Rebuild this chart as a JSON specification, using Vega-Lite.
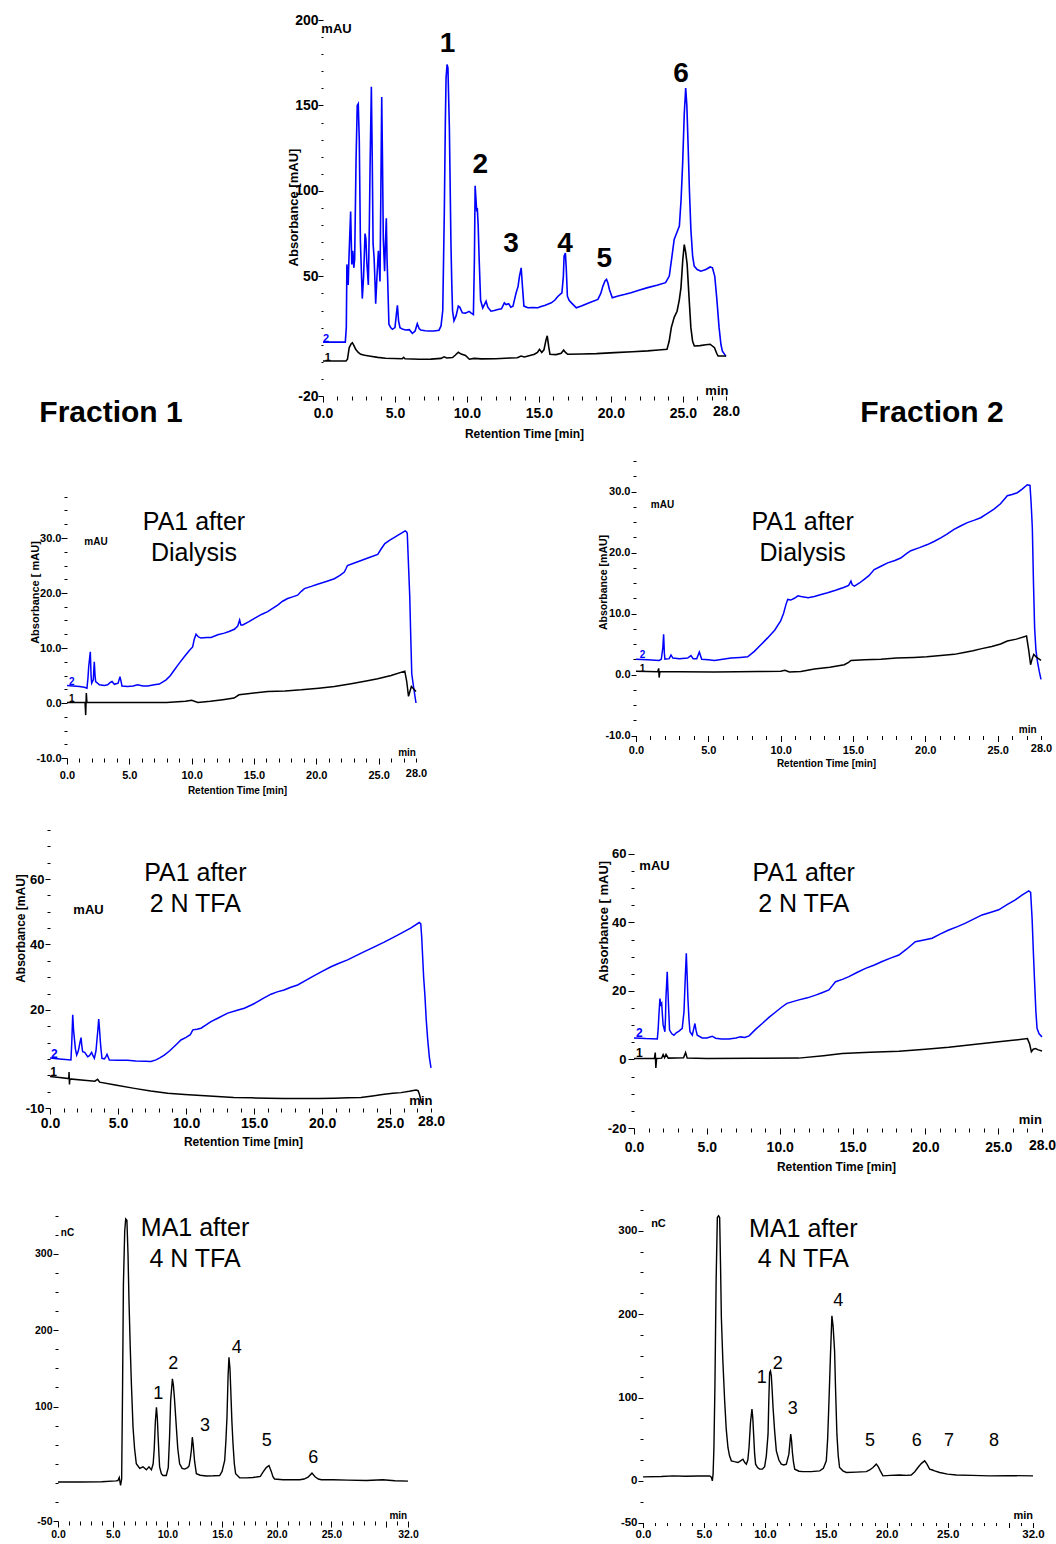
{
"$schema": "https://vega.github.io/schema/vega-lite/v6.json",
"padding": 0,
"background": "white",
"config": {
  "view": {"stroke": null},
  "axis": {"domain": false, "grid": false, "labelFont": "Liberation Sans", "labelFontWeight": "bold", "labelColor": "#000000", "titleFont": "Liberation Sans", "titleFontWeight": "bold", "titleColor": "#000000", "tickColor": "#000000", "tickWidth": 1, "labelFlush": false, "labelOverlap": false, "tickCount": 100},
  "text": {"font": "Liberation Sans", "color": "#000000"},
  "concat": {"spacing": 0}
},
"vconcat": [
{
 "hconcat": [
  {"width": 1, "height": 1, "data": {"values": [{}]}, "mark": {"type": "rule", "opacity": 0, "strokeWidth": 0}, "encoding": {"x": {"datum": 0, "type": "quantitative", "scale": {"domain": [0, 1]}, "axis": null}, "y": {"datum": 0, "type": "quantitative", "scale": {"domain": [0, 1]}, "axis": null}}},
  {
  "width": 403, "height": 376,
  "layer": [
    {
      "data": {"values": [
        {"s":"2","t":0,"v":11.5},{"s":"2","t":1.55,"v":11.5},{"s":"2","t":1.62,"v":20},{"s":"2","t":1.66,"v":57},{"s":"2","t":1.75,"v":45},{"s":"2","t":1.8,"v":60},{"s":"2","t":1.92,"v":88},{"s":"2","t":2.0,"v":57},{"s":"2","t":2.07,"v":65},{"s":"2","t":2.14,"v":55},{"s":"2","t":2.2,"v":60},{"s":"2","t":2.3,"v":120},{"s":"2","t":2.38,"v":150},{"s":"2","t":2.45,"v":151},{"s":"2","t":2.52,"v":130},{"s":"2","t":2.6,"v":70},{"s":"2","t":2.73,"v":37},{"s":"2","t":2.82,"v":50},{"s":"2","t":2.92,"v":75},{"s":"2","t":2.98,"v":72},{"s":"2","t":3.04,"v":59},{"s":"2","t":3.15,"v":45},{"s":"2","t":3.22,"v":80},{"s":"2","t":3.27,"v":114},{"s":"2","t":3.36,"v":161},{"s":"2","t":3.42,"v":120},{"s":"2","t":3.48,"v":69},{"s":"2","t":3.55,"v":61},{"s":"2","t":3.62,"v":45},{"s":"2","t":3.66,"v":34},{"s":"2","t":3.75,"v":50},{"s":"2","t":3.85,"v":65},{"s":"2","t":3.96,"v":47},{"s":"2","t":4.02,"v":100},{"s":"2","t":4.08,"v":155},{"s":"2","t":4.13,"v":120},{"s":"2","t":4.19,"v":72},{"s":"2","t":4.28,"v":53},{"s":"2","t":4.34,"v":70},{"s":"2","t":4.4,"v":84},{"s":"2","t":4.45,"v":60},{"s":"2","t":4.49,"v":49},{"s":"2","t":4.58,"v":22},{"s":"2","t":4.7,"v":20},{"s":"2","t":4.82,"v":19},{"s":"2","t":5.0,"v":20},{"s":"2","t":5.1,"v":28},{"s":"2","t":5.17,"v":33},{"s":"2","t":5.25,"v":24},{"s":"2","t":5.35,"v":20},{"s":"2","t":5.55,"v":19},{"s":"2","t":5.75,"v":18.6},{"s":"2","t":6.0,"v":18.8},{"s":"2","t":6.21,"v":16.7},{"s":"2","t":6.4,"v":18},{"s":"2","t":6.55,"v":22.3},{"s":"2","t":6.68,"v":19.5},{"s":"2","t":6.79,"v":18.6},{"s":"2","t":7.1,"v":18.2},{"s":"2","t":7.37,"v":18},{"s":"2","t":7.7,"v":18},{"s":"2","t":8.06,"v":18.5},{"s":"2","t":8.2,"v":21},{"s":"2","t":8.32,"v":30},{"s":"2","t":8.43,"v":88},{"s":"2","t":8.5,"v":140},{"s":"2","t":8.55,"v":166},{"s":"2","t":8.62,"v":174},{"s":"2","t":8.68,"v":172},{"s":"2","t":8.78,"v":137},{"s":"2","t":8.84,"v":100},{"s":"2","t":8.89,"v":69},{"s":"2","t":8.95,"v":45},{"s":"2","t":9.0,"v":30},{"s":"2","t":9.1,"v":24},{"s":"2","t":9.25,"v":27},{"s":"2","t":9.4,"v":32.6},{"s":"2","t":9.5,"v":32},{"s":"2","t":9.68,"v":28.7},{"s":"2","t":9.9,"v":28.5},{"s":"2","t":10.15,"v":29.5},{"s":"2","t":10.3,"v":28.5},{"s":"2","t":10.45,"v":27.7},{"s":"2","t":10.52,"v":60},{"s":"2","t":10.57,"v":103},{"s":"2","t":10.63,"v":95},{"s":"2","t":10.68,"v":88},{"s":"2","t":10.72,"v":90},{"s":"2","t":10.78,"v":80},{"s":"2","t":10.85,"v":60},{"s":"2","t":10.95,"v":36},{"s":"2","t":11.1,"v":31.5},{"s":"2","t":11.25,"v":34},{"s":"2","t":11.33,"v":35.4},{"s":"2","t":11.45,"v":32},{"s":"2","t":11.67,"v":29.6},{"s":"2","t":11.9,"v":30},{"s":"2","t":12.14,"v":30.6},{"s":"2","t":12.4,"v":31},{"s":"2","t":12.6,"v":34.5},{"s":"2","t":12.72,"v":33.5},{"s":"2","t":12.9,"v":34},{"s":"2","t":13.05,"v":32},{"s":"2","t":13.2,"v":32.6},{"s":"2","t":13.35,"v":38},{"s":"2","t":13.42,"v":40.4},{"s":"2","t":13.55,"v":44},{"s":"2","t":13.65,"v":50},{"s":"2","t":13.77,"v":55},{"s":"2","t":13.85,"v":45},{"s":"2","t":13.96,"v":32.6},{"s":"2","t":14.23,"v":31.6},{"s":"2","t":14.6,"v":31.8},{"s":"2","t":14.93,"v":31.6},{"s":"2","t":15.2,"v":32.5},{"s":"2","t":15.4,"v":33},{"s":"2","t":15.86,"v":34.5},{"s":"2","t":16.1,"v":36},{"s":"2","t":16.33,"v":38.4},{"s":"2","t":16.6,"v":40.4},{"s":"2","t":16.7,"v":50},{"s":"2","t":16.75,"v":61.8},{"s":"2","t":16.84,"v":63.7},{"s":"2","t":16.9,"v":55},{"s":"2","t":16.98,"v":38.4},{"s":"2","t":17.1,"v":36},{"s":"2","t":17.26,"v":34.5},{"s":"2","t":17.6,"v":31.6},{"s":"2","t":17.95,"v":32.6},{"s":"2","t":18.5,"v":34.5},{"s":"2","t":19.1,"v":36.5},{"s":"2","t":19.3,"v":40},{"s":"2","t":19.45,"v":44.3},{"s":"2","t":19.6,"v":47.5},{"s":"2","t":19.7,"v":48.2},{"s":"2","t":19.8,"v":46},{"s":"2","t":19.9,"v":42.3},{"s":"2","t":20.1,"v":37.5},{"s":"2","t":20.5,"v":38.5},{"s":"2","t":21.0,"v":39.5},{"s":"2","t":21.4,"v":40.4},{"s":"2","t":22.0,"v":42},{"s":"2","t":22.56,"v":43.4},{"s":"2","t":23.2,"v":44.8},{"s":"2","t":23.8,"v":46.3},{"s":"2","t":24.06,"v":50.2},{"s":"2","t":24.25,"v":62},{"s":"2","t":24.4,"v":71.6},{"s":"2","t":24.6,"v":76},{"s":"2","t":24.76,"v":79.4},{"s":"2","t":24.88,"v":95},{"s":"2","t":24.99,"v":116.4},{"s":"2","t":25.1,"v":145},{"s":"2","t":25.2,"v":160.2},{"s":"2","t":25.28,"v":150},{"s":"2","t":25.37,"v":126},{"s":"2","t":25.46,"v":100},{"s":"2","t":25.56,"v":77.5},{"s":"2","t":25.68,"v":62},{"s":"2","t":25.79,"v":56},{"s":"2","t":26.0,"v":54},{"s":"2","t":26.25,"v":53},{"s":"2","t":26.6,"v":54},{"s":"2","t":26.9,"v":55.5},{"s":"2","t":27.06,"v":55},{"s":"2","t":27.22,"v":50},{"s":"2","t":27.35,"v":38},{"s":"2","t":27.52,"v":20},{"s":"2","t":27.65,"v":10},{"s":"2","t":27.75,"v":6.2},{"s":"2","t":28.0,"v":3.2},
        {"s":"1","t":0,"v":0.5},{"s":"1","t":1.6,"v":0.5},{"s":"1","t":1.7,"v":1.5},{"s":"1","t":1.82,"v":8.3},{"s":"1","t":1.95,"v":10.5},{"s":"1","t":2.04,"v":11.2},{"s":"1","t":2.15,"v":9.5},{"s":"1","t":2.27,"v":7.3},{"s":"1","t":2.45,"v":5.5},{"s":"1","t":2.62,"v":4.4},{"s":"1","t":2.9,"v":3.8},{"s":"1","t":3.2,"v":3.4},{"s":"1","t":3.8,"v":2.6},{"s":"1","t":4.35,"v":2.1},{"s":"1","t":5.5,"v":1.8},{"s":"1","t":5.6,"v":2.6},{"s":"1","t":5.7,"v":1.8},{"s":"1","t":6.67,"v":1.5},{"s":"1","t":7.5,"v":1.6},{"s":"1","t":8.2,"v":2.0},{"s":"1","t":8.41,"v":2.9},{"s":"1","t":8.6,"v":2.2},{"s":"1","t":9.0,"v":2.5},{"s":"1","t":9.2,"v":4.0},{"s":"1","t":9.4,"v":5.6},{"s":"1","t":9.6,"v":4.5},{"s":"1","t":9.9,"v":3.7},{"s":"1","t":10.17,"v":1.5},{"s":"1","t":10.5,"v":2.0},{"s":"1","t":11.0,"v":1.7},{"s":"1","t":12.0,"v":1.8},{"s":"1","t":13.0,"v":2.2},{"s":"1","t":13.5,"v":2.4},{"s":"1","t":13.76,"v":3.4},{"s":"1","t":14.0,"v":2.8},{"s":"1","t":14.69,"v":4.4},{"s":"1","t":14.9,"v":5.5},{"s":"1","t":15.04,"v":7.3},{"s":"1","t":15.2,"v":5.5},{"s":"1","t":15.35,"v":7},{"s":"1","t":15.5,"v":13},{"s":"1","t":15.58,"v":15.2},{"s":"1","t":15.68,"v":9},{"s":"1","t":15.77,"v":4.4},{"s":"1","t":16.2,"v":4.2},{"s":"1","t":16.55,"v":5},{"s":"1","t":16.72,"v":6.9},{"s":"1","t":16.85,"v":5.5},{"s":"1","t":17.0,"v":4.4},{"s":"1","t":18.0,"v":4.6},{"s":"1","t":19.0,"v":4.8},{"s":"1","t":20.25,"v":5.4},{"s":"1","t":21.5,"v":5.9},{"s":"1","t":22.56,"v":6.4},{"s":"1","t":23.3,"v":6.9},{"s":"1","t":23.9,"v":7.3},{"s":"1","t":24.05,"v":12},{"s":"1","t":24.2,"v":20},{"s":"1","t":24.4,"v":26},{"s":"1","t":24.6,"v":29.6},{"s":"1","t":24.75,"v":36},{"s":"1","t":24.87,"v":43.3},{"s":"1","t":25.0,"v":60},{"s":"1","t":25.1,"v":68.6},{"s":"1","t":25.2,"v":64},{"s":"1","t":25.3,"v":57},{"s":"1","t":25.43,"v":38},{"s":"1","t":25.56,"v":20},{"s":"1","t":25.68,"v":12},{"s":"1","t":25.8,"v":9.3},{"s":"1","t":26.2,"v":9.5},{"s":"1","t":26.6,"v":10},{"s":"1","t":26.9,"v":10.3},{"s":"1","t":27.2,"v":8.3},{"s":"1","t":27.35,"v":5},{"s":"1","t":27.45,"v":3.4},{"s":"1","t":28.0,"v":3.4}
      ]},
      "mark": {"type": "line", "strokeWidth": 1.6},
      "encoding": {
        "x": {"field": "t", "type": "quantitative", "scale": {"domain": [0, 28], "nice": false, "zero": false},
          "axis": {"title": "Retention Time [min]", "values": [0,1,2,3,4,5,6,7,8,9,10,11,12,13,14,15,16,17,18,19,20,21,22,23,24,25,26,27,28], "tickCount": 100,
            "labelExpr": "datum.value % 5 === 0 || datum.value === 28 ? format(datum.value, '.1f') : ''",
            "tickSize": {"condition": {"test": "datum.value % 5 === 0", "value": 6}, "value": 4},
            "labelPadding": 4, "labelFontSize": 14, "titleFontSize": 12, "titleX": 201, "titleY": 37, "titleBaseline": "middle"}},
        "y": {"field": "v", "type": "quantitative", "scale": {"domain": [-20, 200], "nice": false, "zero": false},
          "axis": {"title": "Absorbance [mAU]", "values": [-20,-10,0,10,20,30,40,50,60,70,80,90,100,110,120,130,140,150,160,170,180,190,200], "tickCount": 100,
            "labelExpr": "indexof([-20,50,100,150,200], datum.value) >= 0 ? (datum.value < 0 ? '-' : '') + format(abs(datum.value), 'd') : ''",
            "tickSize": {"condition": {"test": "indexof([-20,50,100,150,200], datum.value) >= 0", "value": 5}, "value": 2},
            "labelPadding": 0, "labelFontSize": 14, "titleFontSize": 13, "titleX": -30, "titleY": 187, "titleBaseline": "middle"}},
        "color": {"field": "s", "type": "nominal", "scale": {"domain": ["1", "2"], "range": ["#000000", "#0000ff"]}, "legend": null}
      }
    },
    {
      "data": {"values": [{"s":"2","t":0.21,"v":13.35,"txt":"2"},{"s":"1","t":0.33,"v":2.4,"txt":"1"}]},
      "mark": {"type": "text", "fontSize": 11, "fontWeight": "bold"},
      "encoding": {"x": {"field": "t", "type": "quantitative"}, "y": {"field": "v", "type": "quantitative"}, "text": {"field": "txt"}, "color": {"field": "s", "type": "nominal", "legend": null}}
    },
    {
      "data": {"values": [{"t":0.94,"v":194.7,"txt":"mAU"},{"t":27.37,"v":-17.1,"txt":"min"}]},
      "mark": {"type": "text", "fontSize": 13, "fontWeight": "bold"},
      "encoding": {"x": {"field": "t", "type": "quantitative"}, "y": {"field": "v", "type": "quantitative"}, "text": {"field": "txt"}}
    },
    {
      "data": {"values": [{"t":8.66,"v":185.8,"txt":"1"},{"t":10.93,"v":115.2,"txt":"2"},{"t":13.06,"v":68.8,"txt":"3"},{"t":16.81,"v":69.2,"txt":"4"},{"t":19.54,"v":60.0,"txt":"5"},{"t":24.87,"v":168.2,"txt":"6"}]},
      "mark": {"type": "text", "fontSize": 28, "fontWeight": "bold"},
      "encoding": {"x": {"field": "t", "type": "quantitative"}, "y": {"field": "v", "type": "quantitative"}, "text": {"field": "txt"}}
    },
    {
      "data": {"values": [{"t":-14.73,"v":-29.95,"txt":"Fraction 1"},{"t":42.31,"v":-29.95,"txt":"Fraction 2"}]},
      "mark": {"type": "text", "fontSize": 30, "fontWeight": "bold"},
      "encoding": {"x": {"field": "t", "type": "quantitative"}, "y": {"field": "v", "type": "quantitative"}, "text": {"field": "txt"}}
    },
    {
      "data": {"values": [{}]},
      "mark": {"type": "rule", "opacity": 0, "strokeWidth": 0},
      "encoding": {"x": {"datum": -22.303, "type": "quantitative"}, "y": {"datum": 211.12, "type": "quantitative"}, "y2": {"datum": -53.35}}
    }
  ]
  }
 ]
},
{
  "hconcat": [
    {"width": 1, "height": 1, "data": {"values": [{}]}, "mark": {"type": "rule", "opacity": 0, "strokeWidth": 0}, "encoding": {"x": {"datum": 0, "type": "quantitative", "scale": {"domain": [0, 1]}, "axis": null}, "y": {"datum": 0, "type": "quantitative", "scale": {"domain": [0, 1]}, "axis": null}}},
    {
      "width": 349, "height": 297,
      "layer": [
        {
          "data": {"values": [
            {"s":"2","t":0.0,"v":3.2},{"s":"2","t":0.5,"v":3.1},{"s":"2","t":1.0,"v":3.0},{"s":"2","t":1.39,"v":2.85},{"s":"2","t":1.6,"v":2.7},{"s":"2","t":1.68,"v":4.5},{"s":"2","t":1.74,"v":6.6},{"s":"2","t":1.87,"v":9.3},{"s":"2","t":1.93,"v":5.0},{"s":"2","t":1.98,"v":3.6},{"s":"2","t":2.11,"v":4.2},{"s":"2","t":2.15,"v":6.0},{"s":"2","t":2.19,"v":7.5},{"s":"2","t":2.25,"v":5.0},{"s":"2","t":2.3,"v":3.9},{"s":"2","t":2.6,"v":3.3},{"s":"2","t":3.0,"v":3.2},{"s":"2","t":3.26,"v":3.3},{"s":"2","t":3.45,"v":3.7},{"s":"2","t":3.61,"v":3.9},{"s":"2","t":3.8,"v":3.4},{"s":"2","t":4.1,"v":3.6},{"s":"2","t":4.25,"v":4.8},{"s":"2","t":4.35,"v":3.8},{"s":"2","t":4.41,"v":3.1},{"s":"2","t":4.86,"v":3.0},{"s":"2","t":5.3,"v":3.1},{"s":"2","t":5.67,"v":3.3},{"s":"2","t":6.1,"v":3.1},{"s":"2","t":6.47,"v":3.1},{"s":"2","t":7.0,"v":3.3},{"s":"2","t":7.41,"v":3.45},{"s":"2","t":7.95,"v":4.2},{"s":"2","t":8.3,"v":5.0},{"s":"2","t":8.61,"v":6.0},{"s":"2","t":9.0,"v":7.2},{"s":"2","t":9.41,"v":8.4},{"s":"2","t":9.8,"v":9.5},{"s":"2","t":10.08,"v":10.2},{"s":"2","t":10.2,"v":11.5},{"s":"2","t":10.35,"v":12.5},{"s":"2","t":10.55,"v":12.0},{"s":"2","t":10.75,"v":11.8},{"s":"2","t":11.2,"v":11.9},{"s":"2","t":11.56,"v":11.9},{"s":"2","t":12.1,"v":12.4},{"s":"2","t":12.62,"v":12.7},{"s":"2","t":13.0,"v":13.0},{"s":"2","t":13.43,"v":13.4},{"s":"2","t":13.7,"v":14.0},{"s":"2","t":13.85,"v":15.1},{"s":"2","t":13.95,"v":14.2},{"s":"2","t":14.1,"v":14.2},{"s":"2","t":14.6,"v":14.8},{"s":"2","t":15.04,"v":15.4},{"s":"2","t":15.6,"v":16.1},{"s":"2","t":16.1,"v":16.6},{"s":"2","t":16.5,"v":17.2},{"s":"2","t":16.9,"v":17.8},{"s":"2","t":17.3,"v":18.5},{"s":"2","t":17.7,"v":19.0},{"s":"2","t":18.1,"v":19.3},{"s":"2","t":18.5,"v":19.6},{"s":"2","t":18.8,"v":20.3},{"s":"2","t":19.05,"v":20.8},{"s":"2","t":19.6,"v":21.2},{"s":"2","t":20.1,"v":21.6},{"s":"2","t":20.8,"v":22.1},{"s":"2","t":21.45,"v":22.6},{"s":"2","t":21.9,"v":23.2},{"s":"2","t":22.25,"v":23.8},{"s":"2","t":22.4,"v":24.5},{"s":"2","t":22.5,"v":25.0},{"s":"2","t":23.0,"v":25.4},{"s":"2","t":23.6,"v":25.9},{"s":"2","t":24.3,"v":26.5},{"s":"2","t":24.93,"v":27.0},{"s":"2","t":25.2,"v":28.0},{"s":"2","t":25.5,"v":29.0},{"s":"2","t":25.9,"v":29.6},{"s":"2","t":26.27,"v":30.1},{"s":"2","t":26.7,"v":30.7},{"s":"2","t":27.13,"v":31.3},{"s":"2","t":27.25,"v":31.1},{"s":"2","t":27.3,"v":30.8},{"s":"2","t":27.4,"v":25},{"s":"2","t":27.5,"v":19.3},{"s":"2","t":27.58,"v":12},{"s":"2","t":27.66,"v":5.3},{"s":"2","t":27.8,"v":3},{"s":"2","t":28.0,"v":0.0},
            {"s":"1","t":0.0,"v":0.1},{"s":"1","t":1.45,"v":0.1},{"s":"1","t":1.5,"v":-2.2},{"s":"1","t":1.55,"v":1.8},{"s":"1","t":1.6,"v":0.1},{"s":"1","t":3.0,"v":0.1},{"s":"1","t":5.0,"v":0.1},{"s":"1","t":8.0,"v":0.1},{"s":"1","t":9.5,"v":0.3},{"s":"1","t":10.0,"v":0.5},{"s":"1","t":10.5,"v":0.1},{"s":"1","t":11.5,"v":0.3},{"s":"1","t":12.5,"v":0.6},{"s":"1","t":13.4,"v":0.9},{"s":"1","t":13.8,"v":1.5},{"s":"1","t":14.5,"v":1.7},{"s":"1","t":16.1,"v":2.1},{"s":"1","t":17.5,"v":2.2},{"s":"1","t":18.8,"v":2.4},{"s":"1","t":20.2,"v":2.7},{"s":"1","t":21.45,"v":3.0},{"s":"1","t":22.8,"v":3.5},{"s":"1","t":24.0,"v":4.0},{"s":"1","t":24.93,"v":4.4},{"s":"1","t":26.0,"v":5.0},{"s":"1","t":27.1,"v":5.8},{"s":"1","t":27.25,"v":4.0},{"s":"1","t":27.4,"v":1.2},{"s":"1","t":27.5,"v":2.0},{"s":"1","t":27.63,"v":3.0},{"s":"1","t":27.8,"v":2.6},{"s":"1","t":28.0,"v":2.1}
          ]},
          "mark": {"type": "line", "strokeWidth": 1.5},
          "encoding": {
            "x": {"field": "t", "type": "quantitative", "scale": {"domain": [0, 28], "nice": false, "zero": false},
              "axis": {"title": "Retention Time [min]", "values": [0,1,2,3,4,5,6,7,8,9,10,11,12,13,14,15,16,17,18,19,20,21,22,23,24,25,26,27,28], "tickCount": 100,
                "labelExpr": "datum.value % 5 === 0 || datum.value === 28 ? format(datum.value, '.1f') : ''",
                "tickSize": {"condition": {"test": "datum.value % 5 === 0", "value": 6}, "value": 4},
                "labelPadding": 5, "labelFontSize": 11, "titleFontSize": 10, "titleX": 170, "titleY": 32, "titleBaseline": "middle"}},
            "y": {"field": "v", "type": "quantitative", "scale": {"domain": [-10, 44], "nice": false, "zero": false},
              "axis": {"title": "Absorbance [ mAU]", "values": [-10,-7.5,-5,-2.5,0,2.5,5,7.5,10,12.5,15,17.5,20,22.5,25,27.5,30,32.5,35,37.5], "tickCount": 100,
                "labelExpr": "datum.value % 10 === 0 ? (datum.value < 0 ? '-' : '') + format(abs(datum.value), '.1f') : ''",
                "tickSize": {"condition": {"test": "datum.value % 10 === 0", "value": 6}, "value": 3},
                "labelPadding": 0, "labelFontSize": 11, "titleFontSize": 11, "titleX": -32, "titleY": 131, "titleBaseline": "middle"}},
            "color": {"field": "s", "type": "nominal", "scale": {"domain": ["1", "2"], "range": ["#000000", "#0000ff"]}, "legend": null}
          }
        },
        {
          "data": {"values": [{"s":"2","t":0.38,"v":3.87,"txt":"2"},{"s":"1","t":0.38,"v":0.73,"txt":"1"}]},
          "mark": {"type": "text", "fontSize": 10, "fontWeight": "bold"},
          "encoding": {"x": {"field": "t", "type": "quantitative"}, "y": {"field": "v", "type": "quantitative"}, "text": {"field": "txt"}, "color": {"field": "s", "type": "nominal", "legend": null}}
        },
        {
          "data": {"values": [{"t":2.33,"v":29.27,"txt":"mAU"},{"t":27.28,"v":-9.09,"txt":"min"}]},
          "mark": {"type": "text", "fontSize": 10, "fontWeight": "bold"},
          "encoding": {"x": {"field": "t", "type": "quantitative"}, "y": {"field": "v", "type": "quantitative"}, "text": {"field": "txt"}}
        },
        {
          "data": {"values": [{"t":10.19,"v":32.9,"txt":"PA1 after"},{"t":10.19,"v":27.27,"txt":"Dialysis"}]},
          "mark": {"type": "text", "fontSize": 25},
          "encoding": {"x": {"field": "t", "type": "quantitative"}, "y": {"field": "v", "type": "quantitative"}, "text": {"field": "txt"}}
        },
        {
          "data": {"values": [{}]},
          "mark": {"type": "rule", "opacity": 0, "strokeWidth": 0},
          "encoding": {"x": {"datum": -5.215, "type": "quantitative"}, "x2": {"datum": 39.633}, "y": {"datum": 45.273, "type": "quantitative"}, "y2": {"datum": -21.09}}
        }
      ]
    },
    {
      "width": 405, "height": 274.5,
      "layer": [
        {
          "data": {"values": [
            {"s":"2","t":0.0,"v":2.5},{"s":"2","t":0.8,"v":2.4},{"s":"2","t":1.59,"v":2.3},{"s":"2","t":1.75,"v":2.5},{"s":"2","t":1.86,"v":4.5},{"s":"2","t":1.91,"v":6.6},{"s":"2","t":1.96,"v":3.5},{"s":"2","t":2.0,"v":2.5},{"s":"2","t":2.3,"v":2.6},{"s":"2","t":2.42,"v":3.2},{"s":"2","t":2.55,"v":2.7},{"s":"2","t":3.0,"v":2.6},{"s":"2","t":3.57,"v":2.7},{"s":"2","t":3.8,"v":3.1},{"s":"2","t":3.95,"v":2.6},{"s":"2","t":4.2,"v":2.6},{"s":"2","t":4.38,"v":3.7},{"s":"2","t":4.54,"v":2.5},{"s":"2","t":5.0,"v":2.4},{"s":"2","t":5.42,"v":2.3},{"s":"2","t":6.0,"v":2.5},{"s":"2","t":6.57,"v":2.7},{"s":"2","t":7.2,"v":2.8},{"s":"2","t":7.72,"v":2.9},{"s":"2","t":8.18,"v":3.8},{"s":"2","t":8.6,"v":4.8},{"s":"2","t":9.1,"v":6.0},{"s":"2","t":9.6,"v":7.3},{"s":"2","t":10.0,"v":8.8},{"s":"2","t":10.2,"v":10.0},{"s":"2","t":10.37,"v":11.5},{"s":"2","t":10.49,"v":12.3},{"s":"2","t":10.7,"v":12.2},{"s":"2","t":10.95,"v":12.5},{"s":"2","t":11.2,"v":12.9},{"s":"2","t":11.41,"v":12.8},{"s":"2","t":11.9,"v":12.6},{"s":"2","t":12.33,"v":12.8},{"s":"2","t":12.8,"v":13.1},{"s":"2","t":13.25,"v":13.4},{"s":"2","t":13.8,"v":13.8},{"s":"2","t":14.4,"v":14.3},{"s":"2","t":14.7,"v":14.6},{"s":"2","t":14.86,"v":15.3},{"s":"2","t":14.95,"v":14.7},{"s":"2","t":15.1,"v":14.5},{"s":"2","t":15.45,"v":15.0},{"s":"2","t":15.78,"v":15.6},{"s":"2","t":16.1,"v":16.2},{"s":"2","t":16.47,"v":17.2},{"s":"2","t":16.9,"v":17.7},{"s":"2","t":17.4,"v":18.3},{"s":"2","t":17.9,"v":18.7},{"s":"2","t":18.3,"v":19.1},{"s":"2","t":18.7,"v":19.8},{"s":"2","t":19.0,"v":20.3},{"s":"2","t":19.6,"v":20.8},{"s":"2","t":20.15,"v":21.3},{"s":"2","t":20.6,"v":21.8},{"s":"2","t":21.07,"v":22.4},{"s":"2","t":21.5,"v":23.0},{"s":"2","t":21.99,"v":23.8},{"s":"2","t":22.4,"v":24.3},{"s":"2","t":22.91,"v":24.9},{"s":"2","t":23.4,"v":25.3},{"s":"2","t":23.83,"v":25.7},{"s":"2","t":24.3,"v":26.4},{"s":"2","t":24.75,"v":27.1},{"s":"2","t":25.2,"v":28.0},{"s":"2","t":25.67,"v":29.3},{"s":"2","t":26.0,"v":29.5},{"s":"2","t":26.36,"v":29.8},{"s":"2","t":26.7,"v":30.4},{"s":"2","t":27.05,"v":31.1},{"s":"2","t":27.24,"v":31.0},{"s":"2","t":27.32,"v":28},{"s":"2","t":27.4,"v":24.1},{"s":"2","t":27.48,"v":15},{"s":"2","t":27.56,"v":7.6},{"s":"2","t":27.65,"v":4},{"s":"2","t":27.75,"v":2.2},{"s":"2","t":27.88,"v":0.5},{"s":"2","t":28.0,"v":-0.8},
            {"s":"1","t":0.0,"v":0.55},{"s":"1","t":1.5,"v":0.45},{"s":"1","t":1.57,"v":1.0},{"s":"1","t":1.6,"v":-0.5},{"s":"1","t":1.65,"v":0.45},{"s":"1","t":3.0,"v":0.45},{"s":"1","t":5.4,"v":0.4},{"s":"1","t":7.0,"v":0.45},{"s":"1","t":8.5,"v":0.5},{"s":"1","t":10.0,"v":0.55},{"s":"1","t":10.3,"v":0.7},{"s":"1","t":10.6,"v":0.4},{"s":"1","t":11.4,"v":0.5},{"s":"1","t":12.33,"v":0.9},{"s":"1","t":13.4,"v":1.2},{"s":"1","t":14.4,"v":1.6},{"s":"1","t":14.7,"v":2.0},{"s":"1","t":14.86,"v":2.3},{"s":"1","t":15.8,"v":2.4},{"s":"1","t":16.93,"v":2.5},{"s":"1","t":18.0,"v":2.7},{"s":"1","t":19.23,"v":2.8},{"s":"1","t":20.1,"v":2.9},{"s":"1","t":21.07,"v":3.1},{"s":"1","t":22.0,"v":3.3},{"s":"1","t":22.68,"v":3.6},{"s":"1","t":23.3,"v":3.9},{"s":"1","t":23.83,"v":4.2},{"s":"1","t":24.6,"v":4.6},{"s":"1","t":25.21,"v":5.0},{"s":"1","t":25.67,"v":5.5},{"s":"1","t":26.3,"v":5.8},{"s":"1","t":27.0,"v":6.3},{"s":"1","t":27.15,"v":4.0},{"s":"1","t":27.28,"v":1.6},{"s":"1","t":27.38,"v":2.5},{"s":"1","t":27.5,"v":3.3},{"s":"1","t":27.7,"v":2.8},{"s":"1","t":28.0,"v":2.3}
          ]},
          "mark": {"type": "line", "strokeWidth": 1.5},
          "encoding": {
            "x": {"field": "t", "type": "quantitative", "scale": {"domain": [0, 28], "nice": false, "zero": false},
              "axis": {"title": "Retention Time [min]", "values": [0,1,2,3,4,5,6,7,8,9,10,11,12,13,14,15,16,17,18,19,20,21,22,23,24,25,26,27,28], "tickCount": 100,
                "labelExpr": "datum.value % 5 === 0 || datum.value === 28 ? format(datum.value, '.1f') : ''",
                "tickSize": {"condition": {"test": "datum.value % 5 === 0", "value": 6}, "value": 4},
                "labelPadding": 3, "labelFontSize": 11, "titleFontSize": 10, "titleX": 190, "titleY": 28, "titleBaseline": "middle"}},
            "y": {"field": "v", "type": "quantitative", "scale": {"domain": [-10, 35], "nice": false, "zero": false},
              "axis": {"title": "Absorbance [mAU]", "values": [-10,-7.5,-5,-2.5,0,2.5,5,7.5,10,12.5,15,17.5,20,22.5,25,27.5,30,32.5,35], "tickCount": 100,
                "labelExpr": "datum.value % 10 === 0 ? (datum.value < 0 ? '-' : '') + format(abs(datum.value), '.1f') : ''",
                "tickSize": {"condition": {"test": "datum.value % 10 === 0", "value": 5}, "value": 3},
                "labelPadding": 1, "labelFontSize": 11, "titleFontSize": 10.5, "titleX": -33, "titleY": 121, "titleBaseline": "middle"}},
            "color": {"field": "s", "type": "nominal", "scale": {"domain": ["1", "2"], "range": ["#000000", "#0000ff"]}, "legend": null}
          }
        },
        {
          "data": {"values": [{"s":"2","t":0.46,"v":3.2,"txt":"2"},{"s":"1","t":0.46,"v":0.85,"txt":"1"}]},
          "mark": {"type": "text", "fontSize": 10, "fontWeight": "bold"},
          "encoding": {"x": {"field": "t", "type": "quantitative"}, "y": {"field": "v", "type": "quantitative"}, "text": {"field": "txt"}, "color": {"field": "s", "type": "nominal", "legend": null}}
        },
        {
          "data": {"values": [{"t":1.83,"v":27.79,"txt":"mAU"},{"t":27.08,"v":-9.1,"txt":"min"}]},
          "mark": {"type": "text", "fontSize": 10, "fontWeight": "bold"},
          "encoding": {"x": {"field": "t", "type": "quantitative"}, "y": {"field": "v", "type": "quantitative"}, "text": {"field": "txt"}}
        },
        {
          "data": {"values": [{"t":11.52,"v":25.05,"txt":"PA1 after"},{"t":11.52,"v":19.87,"txt":"Dialysis"}]},
          "mark": {"type": "text", "fontSize": 25},
          "encoding": {"x": {"field": "t", "type": "quantitative"}, "y": {"field": "v", "type": "quantitative"}, "text": {"field": "txt"}}
        },
        {
          "data": {"values": [{}]},
          "mark": {"type": "rule", "opacity": 0, "strokeWidth": 0},
          "encoding": {"x": {"datum": -5.185, "type": "quantitative"}, "y": {"datum": 36.148, "type": "quantitative"}, "y2": {"datum": -10}}
        }
      ]
    }
  ]
},
{
  "hconcat": [
    {"width": 1, "height": 1, "data": {"values": [{}]}, "mark": {"type": "rule", "opacity": 0, "strokeWidth": 0}, "encoding": {"x": {"datum": 0, "type": "quantitative", "scale": {"domain": [0, 1]}, "axis": null}, "y": {"datum": 0, "type": "quantitative", "scale": {"domain": [0, 1]}, "axis": null}}},
    {
      "width": 381, "height": 278,
      "layer": [
        {
          "data": {"values": [
            {"s":"2","t":0.0,"v":5.3},{"s":"2","t":0.7,"v":5.0},{"s":"2","t":1.54,"v":4.7},{"s":"2","t":1.6,"v":10},{"s":"2","t":1.67,"v":18.5},{"s":"2","t":1.73,"v":14},{"s":"2","t":1.79,"v":11.3},{"s":"2","t":1.87,"v":8},{"s":"2","t":1.96,"v":6.2},{"s":"2","t":2.04,"v":7.0},{"s":"2","t":2.1,"v":7.8},{"s":"2","t":2.2,"v":10},{"s":"2","t":2.28,"v":11.5},{"s":"2","t":2.34,"v":9},{"s":"2","t":2.4,"v":7.2},{"s":"2","t":2.55,"v":7.0},{"s":"2","t":2.77,"v":5.7},{"s":"2","t":2.9,"v":6.0},{"s":"2","t":3.06,"v":7.0},{"s":"2","t":3.16,"v":6.0},{"s":"2","t":3.26,"v":5.2},{"s":"2","t":3.38,"v":7.5},{"s":"2","t":3.45,"v":10.8},{"s":"2","t":3.52,"v":14},{"s":"2","t":3.58,"v":17.2},{"s":"2","t":3.64,"v":14},{"s":"2","t":3.7,"v":10.3},{"s":"2","t":3.76,"v":7.5},{"s":"2","t":3.82,"v":5.2},{"s":"2","t":4.0,"v":5.0},{"s":"2","t":4.12,"v":5.8},{"s":"2","t":4.19,"v":6.4},{"s":"2","t":4.28,"v":5.5},{"s":"2","t":4.36,"v":4.7},{"s":"2","t":5.0,"v":4.6},{"s":"2","t":5.7,"v":4.6},{"s":"2","t":6.3,"v":4.4},{"s":"2","t":7.0,"v":4.3},{"s":"2","t":7.42,"v":4.2},{"s":"2","t":7.79,"v":4.7},{"s":"2","t":8.1,"v":5.4},{"s":"2","t":8.4,"v":6.2},{"s":"2","t":8.8,"v":7.5},{"s":"2","t":9.13,"v":8.8},{"s":"2","t":9.4,"v":9.9},{"s":"2","t":9.62,"v":10.8},{"s":"2","t":10.0,"v":11.6},{"s":"2","t":10.31,"v":12.4},{"s":"2","t":10.42,"v":13.3},{"s":"2","t":10.5,"v":13.9},{"s":"2","t":10.8,"v":14.1},{"s":"2","t":11.1,"v":14.4},{"s":"2","t":11.5,"v":15.5},{"s":"2","t":11.83,"v":16.4},{"s":"2","t":12.4,"v":17.6},{"s":"2","t":13.06,"v":19.0},{"s":"2","t":13.7,"v":19.8},{"s":"2","t":14.28,"v":20.5},{"s":"2","t":14.8,"v":21.5},{"s":"2","t":15.26,"v":22.5},{"s":"2","t":15.7,"v":23.6},{"s":"2","t":16.24,"v":24.8},{"s":"2","t":16.7,"v":25.5},{"s":"2","t":17.2,"v":26.1},{"s":"2","t":17.7,"v":26.9},{"s":"2","t":18.2,"v":27.6},{"s":"2","t":18.8,"v":29.0},{"s":"2","t":19.42,"v":30.5},{"s":"2","t":20.0,"v":31.8},{"s":"2","t":20.65,"v":33.2},{"s":"2","t":21.2,"v":34.2},{"s":"2","t":21.87,"v":35.3},{"s":"2","t":22.5,"v":36.6},{"s":"2","t":23.1,"v":37.8},{"s":"2","t":23.8,"v":39.2},{"s":"2","t":24.56,"v":40.7},{"s":"2","t":25.2,"v":42.1},{"s":"2","t":25.79,"v":43.4},{"s":"2","t":26.5,"v":45.0},{"s":"2","t":27.14,"v":46.7},{"s":"2","t":27.25,"v":46.3},{"s":"2","t":27.32,"v":42},{"s":"2","t":27.38,"v":36.8},{"s":"2","t":27.46,"v":30},{"s":"2","t":27.55,"v":24.6},{"s":"2","t":27.65,"v":17},{"s":"2","t":27.75,"v":11.3},{"s":"2","t":27.88,"v":5.5},{"s":"2","t":28.0,"v":2.3},
            {"s":"1","t":0.0,"v":-0.4},{"s":"1","t":0.7,"v":-0.7},{"s":"1","t":1.38,"v":-1.0},{"s":"1","t":1.4,"v":1.0},{"s":"1","t":1.43,"v":-2.8},{"s":"1","t":1.46,"v":-1.1},{"s":"1","t":2.5,"v":-1.5},{"s":"1","t":3.3,"v":-1.8},{"s":"1","t":3.5,"v":-1.2},{"s":"1","t":3.65,"v":-2.1},{"s":"1","t":4.8,"v":-3.0},{"s":"1","t":6.2,"v":-4.0},{"s":"1","t":7.4,"v":-4.8},{"s":"1","t":8.65,"v":-5.5},{"s":"1","t":9.9,"v":-5.9},{"s":"1","t":11.1,"v":-6.2},{"s":"1","t":12.3,"v":-6.5},{"s":"1","t":13.5,"v":-6.8},{"s":"1","t":14.8,"v":-6.9},{"s":"1","t":16.0,"v":-7.0},{"s":"1","t":17.2,"v":-7.1},{"s":"1","t":18.5,"v":-7.1},{"s":"1","t":19.7,"v":-7.1},{"s":"1","t":20.9,"v":-7.0},{"s":"1","t":21.9,"v":-6.9},{"s":"1","t":22.85,"v":-6.8},{"s":"1","t":23.7,"v":-6.3},{"s":"1","t":24.56,"v":-5.8},{"s":"1","t":25.2,"v":-5.5},{"s":"1","t":25.8,"v":-5.3},{"s":"1","t":26.4,"v":-4.9},{"s":"1","t":26.9,"v":-4.5},{"s":"1","t":27.05,"v":-4.7},{"s":"1","t":27.15,"v":-5.8},{"s":"1","t":27.25,"v":-7.5},{"s":"1","t":27.3,"v":-8.5}
          ]},
          "mark": {"type": "line", "strokeWidth": 1.5},
          "encoding": {
            "x": {"field": "t", "type": "quantitative", "scale": {"domain": [0, 28], "nice": false, "zero": false},
              "axis": {"title": "Retention Time [min]", "values": [0,1,2,3,4,5,6,7,8,9,10,11,12,13,14,15,16,17,18,19,20,21,22,23,24,25,26,27,28], "tickCount": 100,
                "labelExpr": "datum.value % 5 === 0 || datum.value === 28 ? format(datum.value, '.1f') : ''",
                "tickSize": {"condition": {"test": "datum.value % 5 === 0", "value": 6}, "value": 4},
                "labelPadding": 2, "labelFontSize": 14, "titleFontSize": 12, "titleX": 193, "titleY": 33, "titleBaseline": "middle"}},
            "y": {"field": "v", "type": "quantitative", "scale": {"domain": [-10, 75], "nice": false, "zero": false},
              "axis": {"title": "Absorbance [mAU]", "values": [-10,-5,0,5,10,15,20,25,30,35,40,45,50,55,60,65,70,75], "tickCount": 100,
                "labelExpr": "indexof([-10,20,40,60], datum.value) >= 0 ? (datum.value < 0 ? '-' : '') + format(abs(datum.value), 'd') : ''",
                "tickSize": {"condition": {"test": "indexof([-10,20,40,60], datum.value) >= 0", "value": 5}, "value": 3},
                "labelPadding": 1, "labelFontSize": 13, "titleFontSize": 12, "titleX": -30, "titleY": 98, "titleBaseline": "middle"}},
            "color": {"field": "s", "type": "nominal", "scale": {"domain": ["1", "2"], "range": ["#000000", "#0000ff"]}, "legend": null}
          }
        },
        {
          "data": {"values": [{"s":"2","t":0.32,"v":6.42,"txt":"2"},{"s":"1","t":0.27,"v":1.1,"txt":"1"}]},
          "mark": {"type": "text", "fontSize": 12, "fontWeight": "bold"},
          "encoding": {"x": {"field": "t", "type": "quantitative"}, "y": {"field": "v", "type": "quantitative"}, "text": {"field": "txt"}, "color": {"field": "s", "type": "nominal", "legend": null}}
        },
        {
          "data": {"values": [{"t":2.83,"v":50.54,"txt":"mAU"},{"t":27.26,"v":-7.86,"txt":"min"}]},
          "mark": {"type": "text", "fontSize": 13, "fontWeight": "bold"},
          "encoding": {"x": {"field": "t", "type": "quantitative"}, "y": {"field": "v", "type": "quantitative"}, "text": {"field": "txt"}}
        },
        {
          "data": {"values": [{"t":10.68,"v":61.94,"txt":"PA1 after"},{"t":10.68,"v":52.47,"txt":"2 N TFA"}]},
          "mark": {"type": "text", "fontSize": 25},
          "encoding": {"x": {"field": "t", "type": "quantitative"}, "y": {"field": "v", "type": "quantitative"}, "text": {"field": "txt"}}
        },
        {
          "data": {"values": [{}]},
          "mark": {"type": "rule", "opacity": 0, "strokeWidth": 0},
          "encoding": {"x": {"datum": -3.528, "type": "quantitative"}, "x2": {"datum": 37.554}, "y": {"datum": 78.06, "type": "quantitative"}, "y2": {"datum": -36.6}}
        }
      ]
    },
    {
      "width": 408, "height": 298,
      "layer": [
        {
          "data": {"values": [
            {"s":"2","t":0.0,"v":6.3},{"s":"2","t":0.8,"v":6.1},{"s":"2","t":1.6,"v":6.0},{"s":"2","t":1.66,"v":9},{"s":"2","t":1.71,"v":13.0},{"s":"2","t":1.78,"v":17.8},{"s":"2","t":1.84,"v":16.0},{"s":"2","t":1.9,"v":16.4},{"s":"2","t":1.95,"v":13},{"s":"2","t":2.0,"v":10.1},{"s":"2","t":2.12,"v":8.1},{"s":"2","t":2.16,"v":12},{"s":"2","t":2.19,"v":17.8},{"s":"2","t":2.28,"v":25.6},{"s":"2","t":2.32,"v":21},{"s":"2","t":2.35,"v":17.8},{"s":"2","t":2.44,"v":8.6},{"s":"2","t":2.6,"v":7.5},{"s":"2","t":2.74,"v":7.1},{"s":"2","t":2.9,"v":7.8},{"s":"2","t":3.09,"v":8.3},{"s":"2","t":3.31,"v":9.1},{"s":"2","t":3.43,"v":13.9},{"s":"2","t":3.52,"v":24},{"s":"2","t":3.59,"v":31.0},{"s":"2","t":3.65,"v":24},{"s":"2","t":3.7,"v":17.8},{"s":"2","t":3.77,"v":12},{"s":"2","t":3.84,"v":8.1},{"s":"2","t":4.0,"v":7.1},{"s":"2","t":4.1,"v":9},{"s":"2","t":4.18,"v":10.5},{"s":"2","t":4.26,"v":8.5},{"s":"2","t":4.34,"v":7.1},{"s":"2","t":4.68,"v":6.3},{"s":"2","t":5.0,"v":6.3},{"s":"2","t":5.37,"v":6.8},{"s":"2","t":5.6,"v":6.2},{"s":"2","t":6.0,"v":6.0},{"s":"2","t":6.51,"v":6.0},{"s":"2","t":7.0,"v":6.3},{"s":"2","t":7.31,"v":6.6},{"s":"2","t":7.6,"v":6.4},{"s":"2","t":7.9,"v":6.9},{"s":"2","t":8.34,"v":8.8},{"s":"2","t":8.8,"v":10.5},{"s":"2","t":9.26,"v":12.3},{"s":"2","t":9.7,"v":13.8},{"s":"2","t":10.17,"v":15.4},{"s":"2","t":10.5,"v":16.4},{"s":"2","t":10.9,"v":16.9},{"s":"2","t":11.32,"v":17.4},{"s":"2","t":11.9,"v":18.0},{"s":"2","t":12.46,"v":18.8},{"s":"2","t":12.9,"v":19.5},{"s":"2","t":13.38,"v":20.3},{"s":"2","t":13.6,"v":21.5},{"s":"2","t":13.83,"v":22.7},{"s":"2","t":14.3,"v":23.4},{"s":"2","t":14.75,"v":24.2},{"s":"2","t":15.3,"v":25.4},{"s":"2","t":15.89,"v":26.6},{"s":"2","t":16.5,"v":27.6},{"s":"2","t":17.03,"v":28.6},{"s":"2","t":17.6,"v":29.6},{"s":"2","t":18.18,"v":30.5},{"s":"2","t":18.7,"v":32.2},{"s":"2","t":19.31,"v":34.4},{"s":"2","t":19.9,"v":34.9},{"s":"2","t":20.46,"v":35.4},{"s":"2","t":21.0,"v":36.6},{"s":"2","t":21.6,"v":37.8},{"s":"2","t":22.2,"v":38.8},{"s":"2","t":22.75,"v":39.8},{"s":"2","t":23.3,"v":41.0},{"s":"2","t":23.89,"v":42.2},{"s":"2","t":24.5,"v":43.0},{"s":"2","t":25.03,"v":43.7},{"s":"2","t":25.6,"v":45.2},{"s":"2","t":26.17,"v":46.6},{"s":"2","t":26.6,"v":47.9},{"s":"2","t":27.09,"v":49.2},{"s":"2","t":27.22,"v":48.8},{"s":"2","t":27.32,"v":41.2},{"s":"2","t":27.41,"v":31},{"s":"2","t":27.5,"v":21.8},{"s":"2","t":27.58,"v":14},{"s":"2","t":27.66,"v":9.1},{"s":"2","t":27.8,"v":7.5},{"s":"2","t":28.0,"v":6.6},
            {"s":"1","t":0.0,"v":0.3},{"s":"1","t":1.4,"v":0.3},{"s":"1","t":1.46,"v":2.0},{"s":"1","t":1.5,"v":-2.5},{"s":"1","t":1.55,"v":0.3},{"s":"1","t":1.9,"v":0.4},{"s":"1","t":2.0,"v":1.4},{"s":"1","t":2.1,"v":0.5},{"s":"1","t":2.2,"v":1.5},{"s":"1","t":2.35,"v":0.4},{"s":"1","t":3.4,"v":0.5},{"s":"1","t":3.54,"v":2.0},{"s":"1","t":3.65,"v":0.4},{"s":"1","t":5.0,"v":0.3},{"s":"1","t":8.0,"v":0.35},{"s":"1","t":11.3,"v":0.4},{"s":"1","t":13.0,"v":1.1},{"s":"1","t":14.29,"v":1.75},{"s":"1","t":16.2,"v":2.1},{"s":"1","t":18.18,"v":2.4},{"s":"1","t":20.0,"v":3.0},{"s":"1","t":21.6,"v":3.6},{"s":"1","t":23.3,"v":4.4},{"s":"1","t":25.03,"v":5.2},{"s":"1","t":26.0,"v":5.6},{"s":"1","t":27.0,"v":6.1},{"s":"1","t":27.15,"v":4.5},{"s":"1","t":27.27,"v":2.25},{"s":"1","t":27.4,"v":3.0},{"s":"1","t":27.55,"v":3.2},{"s":"1","t":27.75,"v":2.8},{"s":"1","t":28.0,"v":2.5}
          ]},
          "mark": {"type": "line", "strokeWidth": 1.5},
          "encoding": {
            "x": {"field": "t", "type": "quantitative", "scale": {"domain": [0, 28], "nice": false, "zero": false},
              "axis": {"title": "Retention Time [min]", "values": [0,1,2,3,4,5,6,7,8,9,10,11,12,13,14,15,16,17,18,19,20,21,22,23,24,25,26,27,28], "tickCount": 100,
                "labelExpr": "datum.value % 5 === 0 || datum.value === 28 ? format(datum.value, '.1f') : ''",
                "tickSize": {"condition": {"test": "datum.value % 5 === 0", "value": 6}, "value": 4},
                "labelPadding": 6, "labelFontSize": 14, "titleFontSize": 12, "titleX": 202, "titleY": 38.5, "titleBaseline": "middle"}},
            "y": {"field": "v", "type": "quantitative", "scale": {"domain": [-20, 67], "nice": false, "zero": false},
              "axis": {"title": "Absorbance [ mAU]", "values": [-20,-15,-10,-5,0,5,10,15,20,25,30,35,40,45,50,55,60], "tickCount": 100,
                "labelExpr": "datum.value % 20 === 0 ? (datum.value < 0 ? '-' : '') + format(abs(datum.value), 'd') : ''",
                "tickSize": {"condition": {"test": "datum.value % 20 === 0", "value": 6}, "value": 3},
                "labelPadding": 2, "labelFontSize": 13, "titleFontSize": 13, "titleX": -31, "titleY": 91, "titleBaseline": "middle"}},
            "color": {"field": "s", "type": "nominal", "scale": {"domain": ["1", "2"], "range": ["#000000", "#0000ff"]}, "legend": null}
          }
        },
        {
          "data": {"values": [{"s":"2","t":0.36,"v":7.82,"txt":"2"},{"s":"1","t":0.36,"v":1.98,"txt":"1"}]},
          "mark": {"type": "text", "fontSize": 12, "fontWeight": "bold"},
          "encoding": {"x": {"field": "t", "type": "quantitative"}, "y": {"field": "v", "type": "quantitative"}, "text": {"field": "txt"}, "color": {"field": "s", "type": "nominal", "legend": null}}
        },
        {
          "data": {"values": [{"t":1.41,"v":56.49,"txt":"mAU"},{"t":27.2,"v":-17.75,"txt":"min"}]},
          "mark": {"type": "text", "fontSize": 13, "fontWeight": "bold"},
          "encoding": {"x": {"field": "t", "type": "quantitative"}, "y": {"field": "v", "type": "quantitative"}, "text": {"field": "txt"}}
        },
        {
          "data": {"values": [{"t":11.65,"v":54.53,"txt":"PA1 after"},{"t":11.65,"v":45.31,"txt":"2 N TFA"}]},
          "mark": {"type": "text", "fontSize": 25},
          "encoding": {"x": {"field": "t", "type": "quantitative"}, "y": {"field": "v", "type": "quantitative"}, "text": {"field": "txt"}}
        },
        {
          "data": {"values": [{}]},
          "mark": {"type": "rule", "opacity": 0, "strokeWidth": 0},
          "encoding": {"x": {"datum": -4.941, "type": "quantitative"}, "y": {"datum": 69.92, "type": "quantitative"}, "y2": {"datum": -20}}
        }
      ]
    }
  ]
},
{
  "hconcat": [
    {"width": 1, "height": 1, "data": {"values": [{}]}, "mark": {"type": "rule", "opacity": 0, "strokeWidth": 0}, "encoding": {"x": {"datum": 0, "type": "quantitative", "scale": {"domain": [0, 1]}, "axis": null}, "y": {"datum": 0, "type": "quantitative", "scale": {"domain": [0, 1]}, "axis": null}}},
    {
      "width": 350, "height": 316,
      "layer": [
        {
          "data": {"values": [
            {"s":"1","t":0.0,"v":1.0},{"s":"1","t":2.0,"v":1.0},{"s":"1","t":4.0,"v":1.5},{"s":"1","t":5.3,"v":2.5},{"s":"1","t":5.48,"v":3.0},{"s":"1","t":5.6,"v":7.0},{"s":"1","t":5.72,"v":-3.5},{"s":"1","t":5.82,"v":5},{"s":"1","t":5.9,"v":120},{"s":"1","t":5.98,"v":260},{"s":"1","t":6.1,"v":330},{"s":"1","t":6.19,"v":345.8},{"s":"1","t":6.3,"v":344},{"s":"1","t":6.4,"v":300},{"s":"1","t":6.49,"v":238.8},{"s":"1","t":6.6,"v":180},{"s":"1","t":6.71,"v":129.7},{"s":"1","t":6.86,"v":72.9},{"s":"1","t":7.0,"v":45},{"s":"1","t":7.16,"v":25},{"s":"1","t":7.47,"v":19},{"s":"1","t":7.77,"v":21},{"s":"1","t":8.08,"v":17},{"s":"1","t":8.32,"v":21},{"s":"1","t":8.54,"v":17},{"s":"1","t":8.7,"v":25},{"s":"1","t":8.8,"v":45},{"s":"1","t":8.9,"v":80},{"s":"1","t":9.0,"v":99},{"s":"1","t":9.08,"v":85},{"s":"1","t":9.14,"v":65},{"s":"1","t":9.22,"v":40},{"s":"1","t":9.29,"v":21},{"s":"1","t":9.45,"v":12},{"s":"1","t":9.6,"v":9.6},{"s":"1","t":9.9,"v":9.6},{"s":"1","t":10.08,"v":20},{"s":"1","t":10.2,"v":60},{"s":"1","t":10.3,"v":107.9},{"s":"1","t":10.46,"v":136.3},{"s":"1","t":10.55,"v":128},{"s":"1","t":10.65,"v":110},{"s":"1","t":10.82,"v":72.9},{"s":"1","t":10.95,"v":45},{"s":"1","t":11.12,"v":25},{"s":"1","t":11.35,"v":19},{"s":"1","t":11.58,"v":18},{"s":"1","t":11.85,"v":20},{"s":"1","t":11.98,"v":22},{"s":"1","t":12.1,"v":32},{"s":"1","t":12.19,"v":42.4},{"s":"1","t":12.28,"v":59.8},{"s":"1","t":12.36,"v":50},{"s":"1","t":12.49,"v":28},{"s":"1","t":12.65,"v":12},{"s":"1","t":13.0,"v":10},{"s":"1","t":13.56,"v":9},{"s":"1","t":14.2,"v":9.2},{"s":"1","t":14.78,"v":9.6},{"s":"1","t":15.0,"v":15},{"s":"1","t":15.24,"v":29.3},{"s":"1","t":15.35,"v":55},{"s":"1","t":15.45,"v":86},{"s":"1","t":15.55,"v":140},{"s":"1","t":15.63,"v":164.6},{"s":"1","t":15.72,"v":150},{"s":"1","t":15.8,"v":120},{"s":"1","t":15.9,"v":80},{"s":"1","t":16.0,"v":51.1},{"s":"1","t":16.12,"v":25},{"s":"1","t":16.24,"v":12},{"s":"1","t":16.61,"v":6.7},{"s":"1","t":17.2,"v":6.5},{"s":"1","t":17.83,"v":7},{"s":"1","t":18.29,"v":8},{"s":"1","t":18.5,"v":8.5},{"s":"1","t":18.74,"v":14},{"s":"1","t":19.04,"v":20},{"s":"1","t":19.29,"v":22.7},{"s":"1","t":19.5,"v":15},{"s":"1","t":19.65,"v":8},{"s":"1","t":19.8,"v":5},{"s":"1","t":20.57,"v":4},{"s":"1","t":21.5,"v":4},{"s":"1","t":22.1,"v":4},{"s":"1","t":22.5,"v":5},{"s":"1","t":22.86,"v":7.4},{"s":"1","t":23.22,"v":12.7},{"s":"1","t":23.5,"v":8},{"s":"1","t":23.8,"v":5},{"s":"1","t":24.08,"v":4},{"s":"1","t":25.14,"v":4},{"s":"1","t":26.5,"v":3.5},{"s":"1","t":28.19,"v":3},{"s":"1","t":29.7,"v":4},{"s":"1","t":30.8,"v":2.8},{"s":"1","t":32.0,"v":2.2}
          ]},
          "mark": {"type": "line", "strokeWidth": 1.4},
          "encoding": {
            "x": {"field": "t", "type": "quantitative", "scale": {"domain": [0, 32], "nice": false, "zero": false},
              "axis": {"title": null, "values": [0,1,2,3,4,5,6,7,8,9,10,11,12,13,14,15,16,17,18,19,20,21,22,23,24,25,26,27,28,29,30,31,32], "tickCount": 100,
                "labelExpr": "(datum.value % 5 === 0 && datum.value <= 25) || datum.value === 32 ? format(datum.value, '.1f') : ''",
                "tickSize": {"condition": {"test": "datum.value % 5 === 0 || datum.value === 32", "value": 6}, "value": 4},
                "labelPadding": 2, "labelFontSize": 10.5}},
            "y": {"field": "v", "type": "quantitative", "scale": {"domain": [-50, 364], "nice": false, "zero": false},
              "axis": {"title": null, "values": [-50,-25,0,25,50,75,100,125,150,175,200,225,250,275,300,325,350], "tickCount": 100,
                "labelExpr": "indexof([-50,100,200,300], datum.value) >= 0 ? (datum.value < 0 ? '-' : '') + format(abs(datum.value), 'd') : ''",
                "tickSize": {"condition": {"test": "indexof([-50,100,200,300], datum.value) >= 0", "value": 5}, "value": 3},
                "labelPadding": 1, "labelFontSize": 10.5}},
            "color": {"field": "s", "type": "nominal", "scale": {"domain": ["1", "2"], "range": ["#000000", "#0000ff"]}, "legend": null}
          }
        },
        {
          "data": {"values": [{"t":0.87,"v":327.7,"txt":"nC"},{"t":31.11,"v":-43.4,"txt":"min"}]},
          "mark": {"type": "text", "fontSize": 10, "fontWeight": "bold"},
          "encoding": {"x": {"field": "t", "type": "quantitative"}, "y": {"field": "v", "type": "quantitative"}, "text": {"field": "txt"}}
        },
        {
          "data": {"values": [{"t":12.53,"v":334.3,"txt":"MA1 after"},{"t":12.53,"v":292.9,"txt":"4 N TFA"}]},
          "mark": {"type": "text", "fontSize": 25},
          "encoding": {"x": {"field": "t", "type": "quantitative"}, "y": {"field": "v", "type": "quantitative"}, "text": {"field": "txt"}}
        },
        {
          "data": {"values": [{"t":9.17,"v":116.0,"txt":"1"},{"t":10.54,"v":155.3,"txt":"2"},{"t":13.44,"v":74.5,"txt":"3"},{"t":16.34,"v":177.0,"txt":"4"},{"t":19.08,"v":54.8,"txt":"5"},{"t":23.34,"v":32.9,"txt":"6"}]},
          "mark": {"type": "text", "fontSize": 18},
          "encoding": {"x": {"field": "t", "type": "quantitative"}, "y": {"field": "v", "type": "quantitative"}, "text": {"field": "txt"}}
        },
        {
          "data": {"values": [{}]},
          "mark": {"type": "rule", "opacity": 0, "strokeWidth": 0},
          "encoding": {"x": {"datum": -5.211, "type": "quantitative"}, "x2": {"datum": 45.897}, "y": {"datum": 377.1, "type": "quantitative"}, "y2": {"datum": -50}}
        }
      ]
    },
    {
      "width": 390, "height": 317.5,
      "layer": [
        {
          "data": {"values": [
            {"s":"1","t":0.0,"v":4.8},{"s":"1","t":1.5,"v":5.2},{"s":"1","t":2.46,"v":6.0},{"s":"1","t":3.5,"v":5.5},{"s":"1","t":4.5,"v":5.8},{"s":"1","t":5.47,"v":6.0},{"s":"1","t":5.62,"v":4},{"s":"1","t":5.69,"v":0},{"s":"1","t":5.75,"v":8},{"s":"1","t":5.82,"v":40},{"s":"1","t":5.9,"v":112},{"s":"1","t":6.0,"v":240},{"s":"1","t":6.1,"v":316},{"s":"1","t":6.2,"v":318},{"s":"1","t":6.29,"v":316},{"s":"1","t":6.36,"v":260},{"s":"1","t":6.43,"v":196},{"s":"1","t":6.55,"v":145},{"s":"1","t":6.7,"v":96},{"s":"1","t":6.83,"v":62},{"s":"1","t":6.97,"v":40},{"s":"1","t":7.1,"v":30},{"s":"1","t":7.25,"v":24},{"s":"1","t":7.5,"v":23},{"s":"1","t":7.79,"v":22},{"s":"1","t":8.0,"v":24},{"s":"1","t":8.2,"v":26},{"s":"1","t":8.35,"v":22},{"s":"1","t":8.48,"v":20},{"s":"1","t":8.6,"v":25},{"s":"1","t":8.7,"v":40},{"s":"1","t":8.82,"v":70},{"s":"1","t":8.94,"v":86},{"s":"1","t":9.01,"v":75},{"s":"1","t":9.08,"v":55},{"s":"1","t":9.16,"v":32},{"s":"1","t":9.24,"v":20},{"s":"1","t":9.4,"v":16},{"s":"1","t":9.57,"v":14},{"s":"1","t":9.8,"v":14},{"s":"1","t":9.98,"v":17},{"s":"1","t":10.12,"v":30},{"s":"1","t":10.26,"v":56},{"s":"1","t":10.32,"v":95},{"s":"1","t":10.39,"v":130},{"s":"1","t":10.46,"v":132},{"s":"1","t":10.53,"v":126},{"s":"1","t":10.6,"v":108},{"s":"1","t":10.67,"v":88},{"s":"1","t":10.8,"v":60},{"s":"1","t":10.94,"v":36},{"s":"1","t":11.15,"v":25},{"s":"1","t":11.35,"v":20},{"s":"1","t":11.55,"v":19},{"s":"1","t":11.76,"v":20},{"s":"1","t":11.97,"v":32},{"s":"1","t":12.05,"v":45},{"s":"1","t":12.12,"v":56},{"s":"1","t":12.19,"v":48},{"s":"1","t":12.26,"v":34},{"s":"1","t":12.35,"v":22},{"s":"1","t":12.45,"v":14},{"s":"1","t":12.8,"v":11.5},{"s":"1","t":13.13,"v":11},{"s":"1","t":13.8,"v":11},{"s":"1","t":14.5,"v":12},{"s":"1","t":14.8,"v":15},{"s":"1","t":15.04,"v":24},{"s":"1","t":15.15,"v":50},{"s":"1","t":15.26,"v":96},{"s":"1","t":15.38,"v":150},{"s":"1","t":15.5,"v":198},{"s":"1","t":15.6,"v":185},{"s":"1","t":15.72,"v":156},{"s":"1","t":15.8,"v":110},{"s":"1","t":15.91,"v":56},{"s":"1","t":16.02,"v":30},{"s":"1","t":16.13,"v":16},{"s":"1","t":16.4,"v":12},{"s":"1","t":16.68,"v":10},{"s":"1","t":17.5,"v":10.5},{"s":"1","t":18.32,"v":11},{"s":"1","t":18.6,"v":13},{"s":"1","t":18.87,"v":16},{"s":"1","t":19.14,"v":20},{"s":"1","t":19.3,"v":17},{"s":"1","t":19.47,"v":12},{"s":"1","t":19.69,"v":6},{"s":"1","t":20.3,"v":6.5},{"s":"1","t":21.06,"v":7},{"s":"1","t":21.6,"v":6.5},{"s":"1","t":22.01,"v":7},{"s":"1","t":22.3,"v":11},{"s":"1","t":22.56,"v":16},{"s":"1","t":22.85,"v":21},{"s":"1","t":23.11,"v":24},{"s":"1","t":23.3,"v":20},{"s":"1","t":23.52,"v":14},{"s":"1","t":23.75,"v":13},{"s":"1","t":23.93,"v":12},{"s":"1","t":24.34,"v":10},{"s":"1","t":25.0,"v":8},{"s":"1","t":25.71,"v":7},{"s":"1","t":27.0,"v":6.5},{"s":"1","t":28.44,"v":6},{"s":"1","t":30.0,"v":6.3},{"s":"1","t":32.0,"v":6.0}
          ]},
          "mark": {"type": "line", "strokeWidth": 1.4},
          "encoding": {
            "x": {"field": "t", "type": "quantitative", "scale": {"domain": [0, 32], "nice": false, "zero": false},
              "axis": {"title": null, "values": [0,1,2,3,4,5,6,7,8,9,10,11,12,13,14,15,16,17,18,19,20,21,22,23,24,25,26,27,28,29,30,31,32], "tickCount": 100,
                "labelExpr": "(datum.value % 5 === 0 && datum.value <= 25) || datum.value === 32 ? format(datum.value, '.1f') : ''",
                "tickSize": {"condition": {"test": "datum.value % 5 === 0 || datum.value === 32", "value": 5}, "value": 3},
                "labelPadding": 1, "labelFontSize": 11.5}},
            "y": {"field": "v", "type": "quantitative", "scale": {"domain": [-50, 331], "nice": false, "zero": false},
              "axis": {"title": null, "values": [-50,-25,0,25,50,75,100,125,150,175,200,225,250,275,300,325], "tickCount": 100,
                "labelExpr": "indexof([-50,0,100,200,300], datum.value) >= 0 ? (datum.value < 0 ? '-' : '') + format(abs(datum.value), 'd') : ''",
                "tickSize": {"condition": {"test": "indexof([-50,0,100,200,300], datum.value) >= 0", "value": 5}, "value": 3},
                "labelPadding": 1, "labelFontSize": 11.5}},
            "color": {"field": "s", "type": "nominal", "scale": {"domain": ["1", "2"], "range": ["#000000", "#0000ff"]}, "legend": null}
          }
        },
        {
          "data": {"values": [{"t":1.27,"v":307.8,"txt":"nC"},{"t":31.2,"v":-42.2,"txt":"min"}]},
          "mark": {"type": "text", "fontSize": 11, "fontWeight": "bold"},
          "encoding": {"x": {"field": "t", "type": "quantitative"}, "y": {"field": "v", "type": "quantitative"}, "text": {"field": "txt"}}
        },
        {
          "data": {"values": [{"t":13.15,"v":301.8,"txt":"MA1 after"},{"t":13.15,"v":265.8,"txt":"4 N TFA"}]},
          "mark": {"type": "text", "fontSize": 25},
          "encoding": {"x": {"field": "t", "type": "quantitative"}, "y": {"field": "v", "type": "quantitative"}, "text": {"field": "txt"}}
        },
        {
          "data": {"values": [{"t":9.74,"v":123.8,"txt":"1"},{"t":11.05,"v":140.6,"txt":"2"},{"t":12.28,"v":85.8,"txt":"3"},{"t":16.02,"v":215.8,"txt":"4"},{"t":18.63,"v":47.8,"txt":"5"},{"t":22.46,"v":47.8,"txt":"6"},{"t":25.11,"v":47.8,"txt":"7"},{"t":28.8,"v":47.8,"txt":"8"}]},
          "mark": {"type": "text", "fontSize": 18},
          "encoding": {"x": {"field": "t", "type": "quantitative"}, "y": {"field": "v", "type": "quantitative"}, "text": {"field": "txt"}}
        },
        {
          "data": {"values": [{}]},
          "mark": {"type": "rule", "opacity": 0, "strokeWidth": 0},
          "encoding": {"x": {"datum": -6.81, "type": "quantitative"}, "y": {"datum": 343, "type": "quantitative"}, "y2": {"datum": -50}}
        }
      ]
    }
  ]
}
]
}
